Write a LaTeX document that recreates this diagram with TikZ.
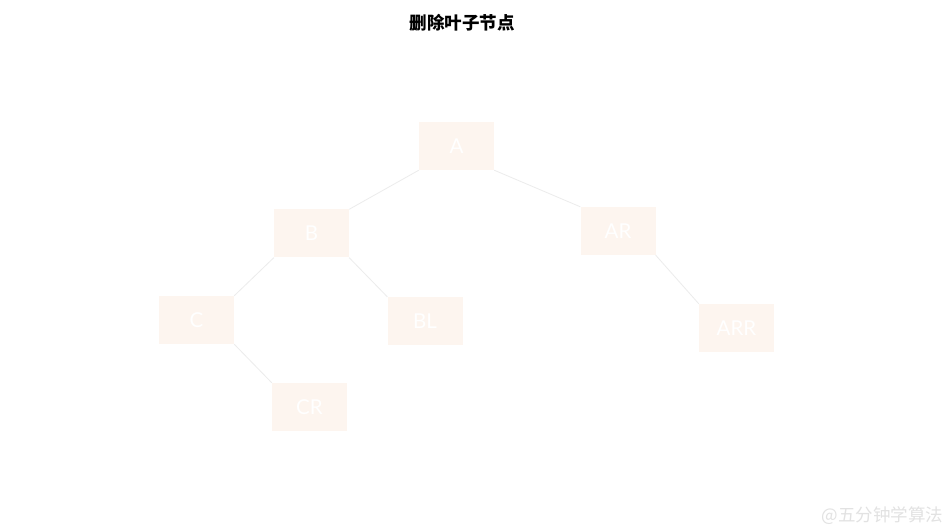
\documentclass[tikz,border=0pt]{standalone}
\usepackage{fontspec}
\usepackage{xcolor}
\setmainfont{Lato}
\newfontfamily\cjkfont{Noto Sans CJK SC}
\usetikzlibrary{positioning}

\definecolor{boxfill}{HTML}{FDF5EF}
\definecolor{edgegray}{HTML}{ECECEC}
\definecolor{markgray}{HTML}{E2E2E2}

\begin{document}
\begin{tikzpicture}[
  x=1pt, y=-1pt,
  treenode/.style={fill=boxfill, minimum width=75pt, minimum height=48pt, text=white, font=\fontsize{20.5}{20.5}\selectfont},
  edge/.style={draw=edgegray, line width=0.8pt}
]
\fill[white] (0,0) rectangle (950,529);
\useasboundingbox (0,0) rectangle (950,529);

\node[font=\cjkfont\bfseries\fontsize{17.5}{17.5}\selectfont] (title) at (462,23) {删除叶子节点};

\node[treenode] (A) at (456.5,146) {A};
\node[treenode] (B) at (311.5,233.5) {B};
\node[treenode] (AR) at (618,231) {AR};
\node[treenode] (C) at (196.5,320) {C};
\node[treenode] (BL) at (425,321) {BL};
\node[treenode] (ARR) at (736.5,328) {ARR};
\node[treenode] (CR) at (309.5,407) {CR};

\draw[edge] (A.south west) -- (B.north east);
\draw[edge] (A.south east) -- (AR.north west);
\draw[edge] (B.south west) -- (C.north east);
\draw[edge] (B.south east) -- (BL.north west);
\draw[edge] (C.south east) -- (CR.north west);
\draw[edge] (AR.south east) -- (ARR.north west);

\node[text=markgray, font=\cjkfont\fontsize{17.5}{17.5}\selectfont, anchor=east] (mark) at (947,516) {@五分钟学算法};
\end{tikzpicture}
\end{document}
